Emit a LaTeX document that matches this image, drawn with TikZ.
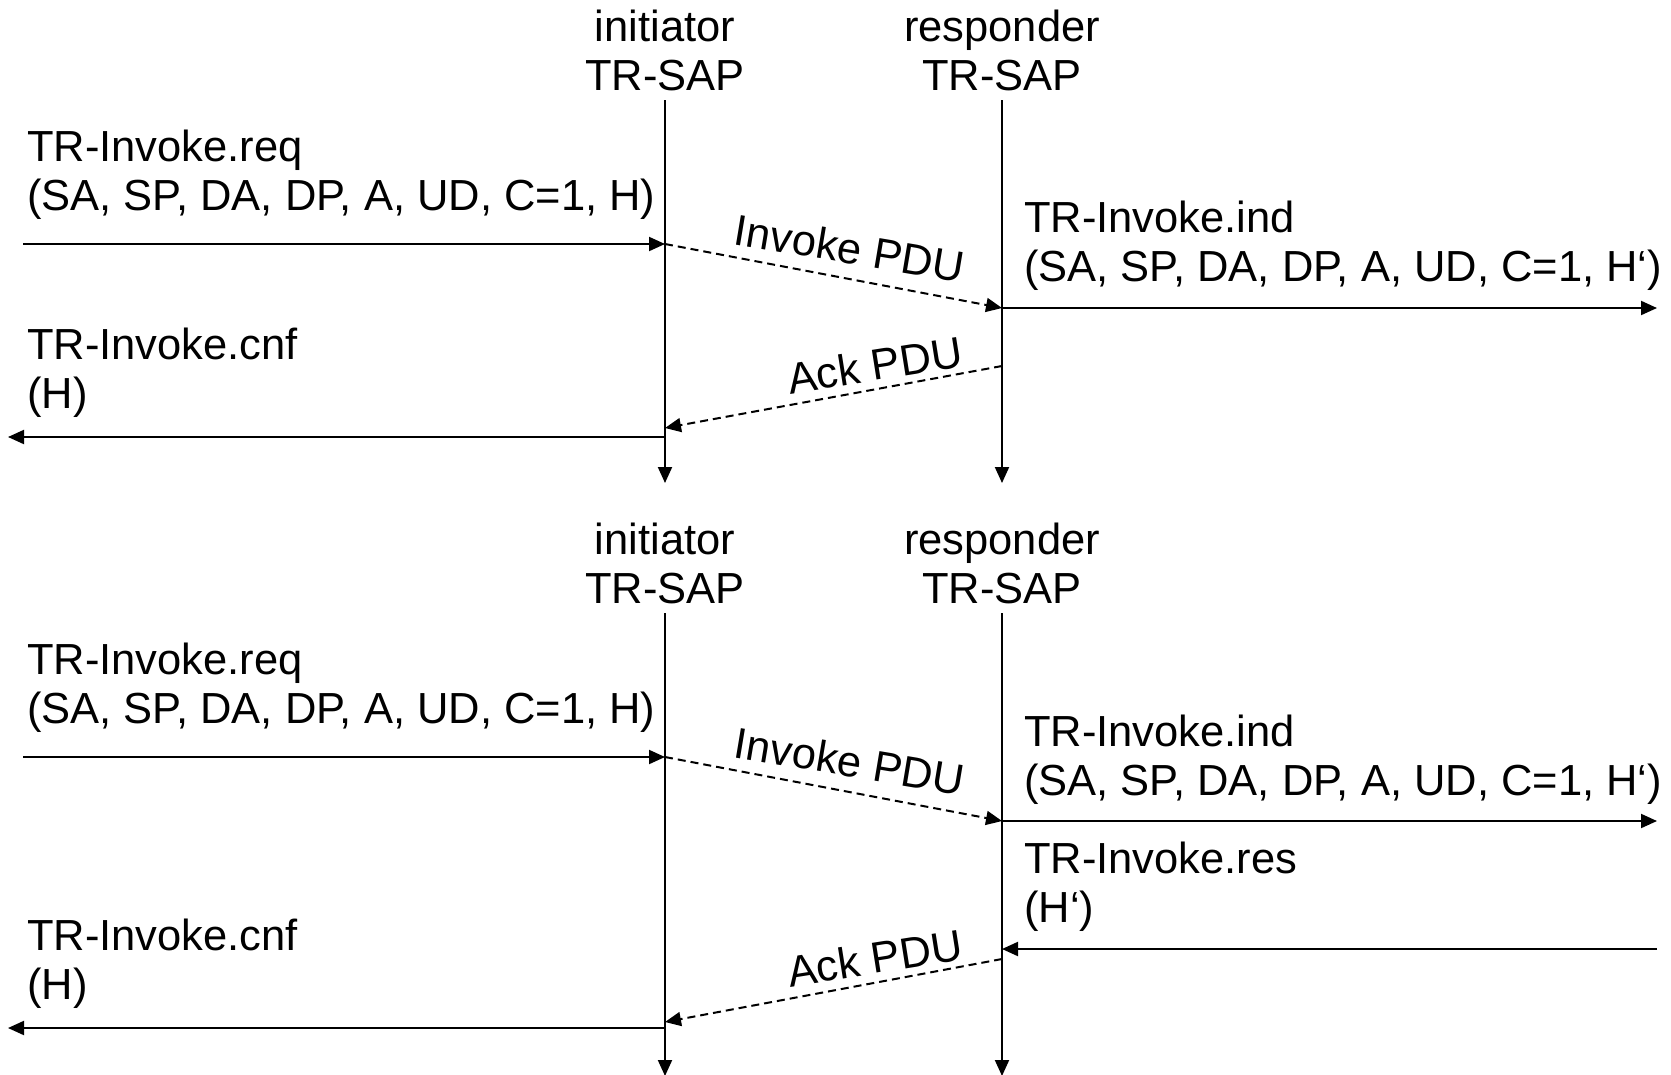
\documentclass[tikz,border=0pt]{standalone}
\usepackage{fontspec}
\setmainfont{Liberation Sans}
\usetikzlibrary{arrows.meta}
\begin{document}
\begin{tikzpicture}[x=1pt,y=-1pt,
  every node/.style={inner sep=0pt, font=\fontsize{43.5}{49}\selectfont},
  msg/.style={line width=2pt, -{Triangle[length=16pt,width=14pt]}},
  pdu/.style={msg, dash pattern=on 8pt off 5pt},
  lifeline/.style={msg},
  % multi-line nodes: the base anchor sits on the last line
  prim/.style={anchor=base west, align=left},
  head/.style={anchor=base, align=center}
]
\useasboundingbox (0,0) rectangle (1671,1074);

% ---------- first exchange: confirmation by the provider ----------
\node[head] (iA) at (665,90) {initiator\\TR-SAP};
\node[head] (rA) at (1002,90) {responder\\TR-SAP};
\coordinate (iAtop) at (665,100);  \coordinate (iAend) at (665,483);
\coordinate (rAtop) at (1002,100); \coordinate (rAend) at (1002,483);
\draw[lifeline] (iAtop) -- (iAend);
\draw[lifeline] (rAtop) -- (rAend);

\node[prim] (reqA) at (27,210) {TR-Invoke.req\\(SA, SP, DA, DP, A, UD, C=1, H)};
\coordinate (reqAs) at (23,244);  \coordinate (reqAe) at (665,244);
\draw[msg] (reqAs) -- (reqAe);

\coordinate (invAe) at (1002,308);
\draw[pdu] (reqAe) -- (invAe);
\node[rotate=-9.5] (invAl) at (850,248) {Invoke PDU};

\node[prim] (indA) at (1024,281) {TR-Invoke.ind\\(SA, SP, DA, DP, A, UD, C=1, H‘)};
\coordinate (indAe) at (1657,308);
\draw[msg] (invAe) -- (indAe);

\coordinate (ackAs) at (1002,366); \coordinate (ackAe) at (665,428);
\draw[pdu] (ackAs) -- (ackAe);
\node[rotate=9] (ackAl) at (875,365) {Ack PDU};

\node[prim] (cnfA) at (27,408) {TR-Invoke.cnf\\(H)};
\coordinate (cnfAs) at (665,437); \coordinate (cnfAe) at (8,437);
\draw[msg] (cnfAs) -- (cnfAe);

% ---------- second exchange: confirmation by the user ----------
\node[head] (iB) at (665,603) {initiator\\TR-SAP};
\node[head] (rB) at (1002,603) {responder\\TR-SAP};
\coordinate (iBtop) at (665,613);  \coordinate (iBend) at (665,1076);
\coordinate (rBtop) at (1002,613); \coordinate (rBend) at (1002,1076);
\draw[lifeline] (iBtop) -- (iBend);
\draw[lifeline] (rBtop) -- (rBend);

\node[prim] (reqB) at (27,723) {TR-Invoke.req\\(SA, SP, DA, DP, A, UD, C=1, H)};
\coordinate (reqBs) at (23,757);  \coordinate (reqBe) at (665,757);
\draw[msg] (reqBs) -- (reqBe);

\coordinate (invBe) at (1002,821);
\draw[pdu] (reqBe) -- (invBe);
\node[rotate=-9.5] (invBl) at (850,761) {Invoke PDU};

\node[prim] (indB) at (1024,795) {TR-Invoke.ind\\(SA, SP, DA, DP, A, UD, C=1, H‘)};
\coordinate (indBe) at (1657,821);
\draw[msg] (invBe) -- (indBe);

\node[prim] (resB) at (1024,922) {TR-Invoke.res\\(H‘)};
\coordinate (resBs) at (1657,949); \coordinate (resBe) at (1002,949);
\draw[msg] (resBs) -- (resBe);

\coordinate (ackBs) at (1002,959); \coordinate (ackBe) at (665,1022);
\draw[pdu] (ackBs) -- (ackBe);
\node[rotate=9] (ackBl) at (875,958) {Ack PDU};

\node[prim] (cnfB) at (27,999) {TR-Invoke.cnf\\(H)};
\coordinate (cnfBs) at (665,1028); \coordinate (cnfBe) at (8,1028);
\draw[msg] (cnfBs) -- (cnfBe);
\end{tikzpicture}
\end{document}
